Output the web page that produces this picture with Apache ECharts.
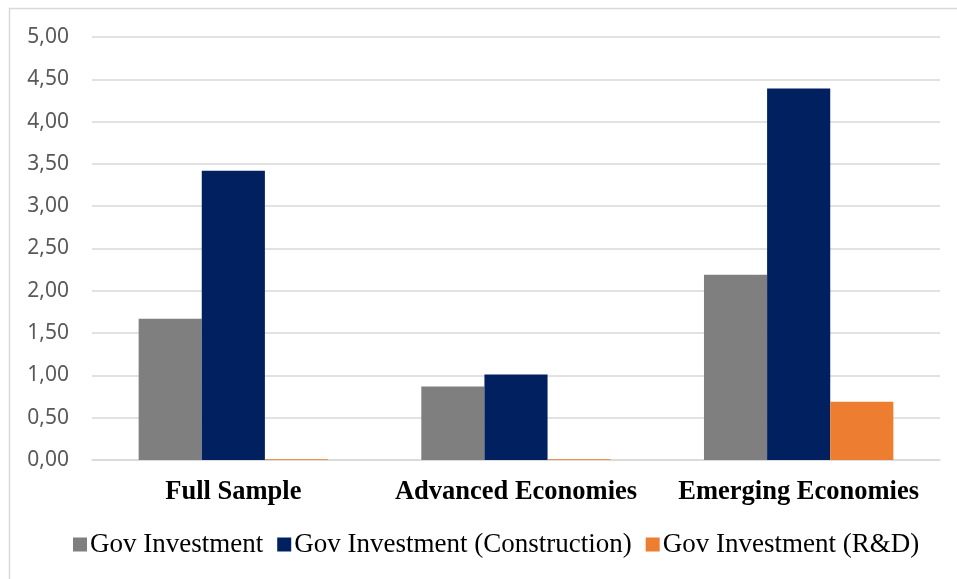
<!DOCTYPE html>
<html>
<head>
<meta charset="utf-8">
<script src="https://cdn.jsdelivr.net/npm/echarts@6/dist/echarts.min.js"></script>
<style>html,body{margin:0;padding:0;background:#fff;}#c{width:957px;height:579px;}</style>
</head>
<body>
<div id="c"></div>
<script>
const categories = ['Full Sample', 'Advanced Economies', 'Emerging Economies'];
const seriesNames = ['Gov Investment', 'Gov Investment (Construction)', 'Gov Investment (R&D)'];
const govInvestment = [1.67, 0.87, 2.19];
const govConstruction = [3.42, 1.01, 4.39];
const govRD = [0.01, 0.01, 0.69];
const colors = ['#7f7f7f', '#002060', '#ed7d31'];

const chart = echarts.init(document.getElementById('c'), null, {renderer: 'canvas'});
const values = [govInvestment, govConstruction, govRD];
chart.setOption({
  animation: false,
  backgroundColor: '#ffffff',
  grid: {left: 92, right: 17, top: 37, bottom: 119, containLabel: false},
  graphic: [
    {type: 'line', shape: {x1: 9, y1: 8.5, x2: 957, y2: 8.5}, style: {stroke: '#d9d9d9', lineWidth: 1.5}},
    {type: 'line', shape: {x1: 9.5, y1: 8, x2: 9.5, y2: 579}, style: {stroke: '#d9d9d9', lineWidth: 1.5}}
  ],
  legend: {
    data: seriesNames,
    bottom: 16,
    left: 68,
    icon: 'rect',
    itemWidth: 14,
    itemHeight: 14,
    itemGap: 14,
    textStyle: {fontFamily: 'Liberation Serif', fontSize: 27, color: '#000', padding: [0, 0, 0, -2]}
  },
  xAxis: {
    type: 'category',
    data: categories,
    axisLine: {show: true, lineStyle: {color: '#d9d9d9', width: 1.5}},
    axisTick: {show: false},
    axisLabel: {interval: 0, hideOverlap: false, fontFamily: 'Liberation Serif', fontWeight: 'bold', fontSize: 26.5, color: '#000', margin: 19}
  },
  yAxis: {
    type: 'value',
    min: 0,
    max: 5,
    interval: 0.5,
    axisLine: {show: false},
    axisTick: {show: false},
    splitLine: {lineStyle: {color: '#d9d9d9', width: 1.5}},
    axisLabel: {
      fontFamily: 'Noto Sans', fontSize: 21, color: '#595959', margin: 23,
      formatter: v => v.toFixed(2).replace('.', ',')
    }
  },
  series: seriesNames.map((n, i) => ({
    name: n,
    type: 'bar',
    data: values[i],
    barGap: '0%',
    barCategoryGap: '33%',
    itemStyle: {color: colors[i]}
  }))
});
</script>
</body>
</html>
